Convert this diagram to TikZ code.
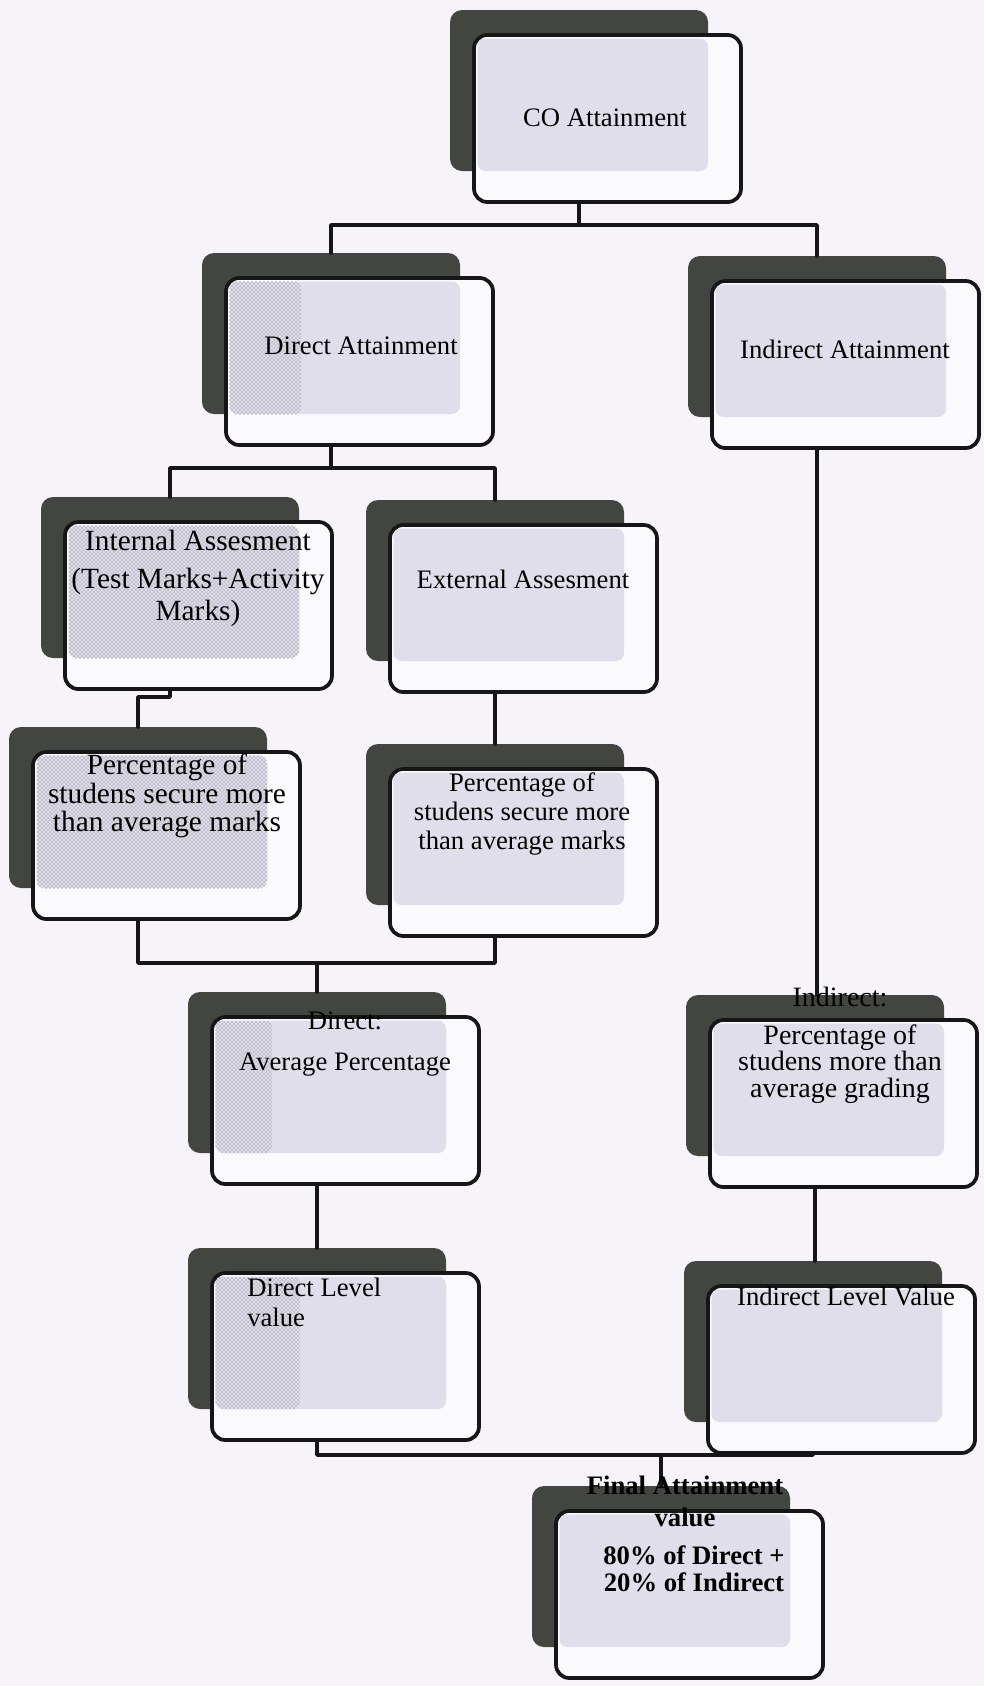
\documentclass[tikz,border=0pt]{standalone}
\usepackage{fontspec}
\setmainfont{Liberation Serif}
\usepackage{tikz}
\usetikzlibrary{patterns}
\definecolor{paperbg}{RGB}{246,244,249}
\definecolor{darkbox}{RGB}{66,69,64}
\definecolor{frontbg}{RGB}{250,249,252}
\definecolor{innerbg}{RGB}{224,222,234}
\definecolor{edgecol}{RGB}{22,22,24}
\definecolor{dotcol}{RGB}{95,95,105}
\tikzset{
  backbox/.style={fill=darkbox,rounded corners=9pt,minimum width=193.5pt,minimum height=120.75pt,inner sep=0pt,outer sep=0pt},
  frontbox/.style={draw=edgecol,line width=2.8pt,fill=frontbg,rounded corners=10pt,minimum width=200.25pt,minimum height=125.25pt,inner sep=0pt,outer sep=0pt},
  innerfill/.style={fill=innerbg,rounded corners=6pt},
  stipple/.style={pattern=crosshatch dots,pattern color=dotcol,rounded corners=6pt},
  conn/.style={draw=edgecol,line width=2.8pt},
  lbl/.style={font=\fontsize{20}{21}\selectfont,align=center,inner sep=0pt,text=black}
}

\begin{document}
\begin{tikzpicture}[line cap=round,line join=round,x=0.75pt,y=-0.75pt]
            \useasboundingbox (0,0) rectangle (984,1686);
            \fill[paperbg] (0,0) rectangle (984,1686);
            \foreach \n/\x/\y in {co/579/90.5,dirAtt/331/333.5,indAtt/817/336.5,int/170/577.5,ext/495/580.5,perc1/138/807.5,perc2/495/824.5,dirAvg/317/1072.5,indPct/815/1075.5,dirLvl/317/1328.5,indLvl/813/1341.5,final/661/1566.5}{
                \node[backbox] (\n-b) at (\x,\y) {};
                \node[frontbox] (\n-f) at ([shift={(28.5,28)}]\n-b.center) {};
                \fill[innerfill] ([shift={(3.5,3.5)}]\n-f.north west) rectangle (\n-b.south east);
            }
            \fill[stipple] ([shift={(3.5,3.5)}]dirAtt-f.north west) rectangle ++(72,133);
            \fill[stipple] ([shift={(3.5,3.5)}]int-f.north west) rectangle ++(231,133);
            \fill[stipple] ([shift={(3.5,3.5)}]perc1-f.north west) rectangle ++(231,133);
            \fill[stipple] ([shift={(3.5,3.5)}]dirAvg-f.north west) rectangle ++(57,133);
            \fill[stipple] ([shift={(3.5,3.5)}]dirLvl-f.north west) rectangle ++(85,133);

            \draw[conn] (co-b.center |- co-f.south) -- ++(0,23) -| (dirAtt-b.north);
            \draw[conn] (co-b.center |- co-f.south) -- ++(0,23) -| (indAtt-b.north);
            \draw[conn] (dirAtt-b.center |- dirAtt-f.south) -- ++(0,23) -| (int-b.north);
            \draw[conn] (dirAtt-b.center |- dirAtt-f.south) -- ++(0,23) -| (ext-b.north);
            \draw[conn] (int-b.center |- int-f.south) -- ++(0,8) -| (perc1-b.north);
            \draw[conn] (ext-b.center |- ext-f.south) -- (perc2-b.north);
            \draw[conn] (perc1-b.center |- perc1-f.south) -- ++(0,44) coordinate (dj) -| (perc2-b.center |- perc2-f.south);
            \draw[conn] (dj -| dirAvg-b.north) -- (dirAvg-b.north);
            \draw[conn] (indAtt-b.center |- indAtt-f.south) -- (indAtt-b.center |- indPct-b.north);
            \draw[conn] (dirAvg-b.center |- dirAvg-f.south) -- (dirLvl-b.north);
            \draw[conn] (indPct-b.center |- indPct-f.south) -- (indPct-b.center |- indLvl-b.north);
            \draw[conn] (dirLvl-b.center |- dirLvl-f.south) -- ++(0,15) coordinate (fj) -| (indLvl-b.center |- indLvl-f.south);
            \draw[conn] (fj -| final-b.north) -- (final-b.north);

            \node[lbl] (coT) at (605,118) {CO Attainment};
            \node[lbl] (dirAttT) at (361,346) {Direct Attainment};
            \node[lbl] (indAttT) at (845,349) {Indirect Attainment};
            \node[lbl,font=\fontsize{22}{24}\selectfont] (intT) at (198,578) {Internal Assesment\\[4.5pt](Test Marks+Activity\\Marks)};
            \node[lbl] (extT) at (523,579) {External Assesment};
            \node[lbl,font=\fontsize{22}{21.5}\selectfont] (perc1T) at (167,796) {Percentage of\\studens secure more\\than average marks};
            \node[lbl,font=\fontsize{20}{21.5}\selectfont] (perc2T) at (522,814) {Percentage of\\studens secure more\\than average marks};
            \node[lbl,font=\fontsize{20}{31}\selectfont] (dirAvgT) at (345,1044) {Direct:\\Average Percentage};
            \node[lbl,font=\fontsize{21}{20}\selectfont] (indPctT) at (840,1045) {Indirect:\\[8.5pt]Percentage of\\studens more than\\average grading};
            \node[lbl,align=left,anchor=west,font=\fontsize{20}{22.5}\selectfont] (dirLvlT) at (247,1302) {Direct Level\\value};
            \node[lbl] (indLvlT) at (846,1296) {Indirect Level Value};
            \node[lbl,font=\bfseries\fontsize{20}{24}\selectfont] (finT) at (685,1501) {Final Attainment\\value};
            \node[lbl,font=\bfseries\fontsize{20}{20.5}\selectfont] (finV) at (694,1569) {80\% of Direct +\\20\% of Indirect};
\end{tikzpicture}
\end{document}
